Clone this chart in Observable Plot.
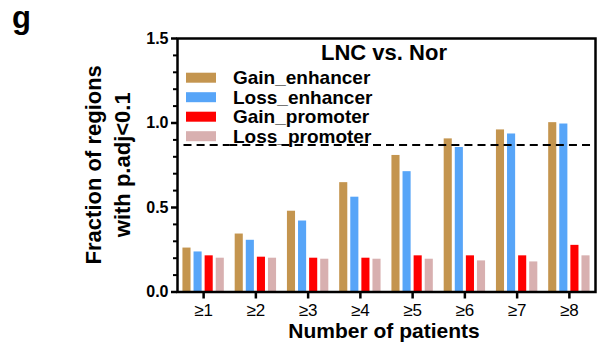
<!DOCTYPE html>
<html>
<head>
<meta charset="utf-8">
<script src="https://cdn.jsdelivr.net/npm/d3@7"></script>
<script src="https://cdn.jsdelivr.net/npm/@observablehq/plot@0.6"></script>
<style>
  html, body { margin: 0; padding: 0; background: #fff; }
  #chart { width: 598px; height: 347px; }
</style>
</head>
<body>
<div id="chart"></div>
<script>
const patients = ["≥1", "≥2", "≥3", "≥4", "≥5", "≥6", "≥7", "≥8"];
const series = ["Gain_enhancer", "Loss_enhancer", "Gain_promoter", "Loss_promoter"];
const gainEnhancer = [0.26, 0.343, 0.478, 0.647, 0.808, 0.906, 0.959, 1.002];
const lossEnhancer = [0.237, 0.306, 0.42, 0.561, 0.712, 0.855, 0.935, 0.994];
const gainPromoter = [0.214, 0.206, 0.2, 0.2, 0.214, 0.214, 0.214, 0.276];
const lossPromoter = [0.2, 0.2, 0.194, 0.194, 0.194, 0.184, 0.178, 0.214];
const threshold = 0.87;
const seriesColors = ["#C4954F", "#57A5F8", "#FF0000", "#D8B0B0"];
const yMajorTicks = [0, 0.5, 1.0, 1.5];
const yMinorTicks = [0.1, 0.2, 0.3, 0.4, 0.6, 0.7, 0.8, 0.9, 1.1, 1.2, 1.3, 1.4];
const title = "LNC vs. Nor";
const panelLetter = "g";
const yLabelLines = ["Fraction of regions", "with p.adj<0.1"];
const xLabel = "Number of patients";

const valuesBySeries = [gainEnhancer, lossEnhancer, gainPromoter, lossPromoter];
const data = [];
patients.forEach((p, i) => {
  series.forEach((s, j) => data.push({patients: p, series: s, value: valuesBySeries[j][i]}));
});
const thresholdRows = patients.map(p => ({patients: p, value: threshold}));
const first = patients[0], last = patients[patients.length - 1];

const font = "'Liberation Sans', Arial, Helvetica, sans-serif";
const dash = {stroke: "#000", strokeWidth: 2, strokeDasharray: "8,5.09"};

const plot = Plot.plot({
  width: 598,
  height: 347,
  marginLeft: 177,
  marginRight: 3,
  marginTop: 38,
  marginBottom: 55.5,
  style: {fontFamily: font, color: "#000", background: "#fff", overflow: "visible"},
  fx: {domain: patients, padding: 0, round: false, axis: null, label: null},
  x: {domain: series, paddingInner: 0.27, paddingOuter: 0.49, round: false, axis: null},
  y: {domain: [0, 1.5], axis: null},
  color: {domain: series, range: seriesColors},
  marks: [
    Plot.barY(data, {fx: "patients", x: "series", y: "value", fill: "series"}),
    Plot.ruleY(thresholdRows.filter(d => d.patients === first), {fx: "patients", y: "value", insetLeft: 6.5, ...dash}),
    Plot.ruleY(thresholdRows.filter(d => d.patients !== first && d.patients !== last), {fx: "patients", y: "value", ...dash}),
    Plot.ruleY(thresholdRows.filter(d => d.patients === last), {fx: "patients", y: "value", insetRight: 4.5, ...dash}),
    Plot.frame({facet: "super", stroke: "#000", strokeWidth: 2.5}),
    Plot.axisY({ticks: yMajorTicks, tickFormat: d3.format(".1f"), tickSize: 6, tickPadding: 3,
      fontSize: 16, fontWeight: "bold", strokeWidth: 2.5, label: null}),
    Plot.axisY({ticks: yMinorTicks, tickFormat: () => "", tickSize: 4, strokeWidth: 2, label: null}),
    Plot.axisFx({anchor: "bottom", tickSize: 7, tickPadding: 5, fontSize: 17, strokeWidth: 2.5, label: null})
  ]
});

document.getElementById("chart").appendChild(plot);

const svg = d3.select(plot);
const y = plot.scale("y");
const color = plot.scale("color");
const yTop = y.apply(1.5), yBottom = y.apply(0);

// panel letter
svg.append("text").attr("x", 12).attr("y", 28).attr("font-size", 31).attr("font-weight", "bold")
  .attr("text-anchor", "start").attr("font-family", font).text(panelLetter);

// y label
const yMid = (yTop + yBottom) / 2;
[101, 130].forEach((bx, i) => {
  svg.append("text").attr("transform", `translate(${bx},${yMid}) rotate(-90)`)
    .attr("text-anchor", "middle").attr("font-size", 22).attr("font-weight", "bold")
    .attr("font-family", font).text(yLabelLines[i]);
});

// x label
svg.append("text").attr("x", 384).attr("y", 338).attr("text-anchor", "middle")
  .attr("font-size", 21).attr("font-weight", "bold").attr("font-family", font).text(xLabel);

// title
svg.append("text").attr("x", 384).attr("y", 60).attr("text-anchor", "middle")
  .attr("font-size", 22).attr("font-weight", "bold").attr("font-family", font).text(title);

// legend
series.forEach((s, i) => {
  const cy = 77.7 + i * 19.5;
  svg.append("rect").attr("x", 186).attr("y", cy - 5).attr("width", 30).attr("height", 10)
    .attr("fill", color.apply(s));
  svg.append("text").attr("x", 233).attr("y", cy + 6.5).attr("font-size", 19)
    .attr("text-anchor", "start").attr("font-weight", "bold").attr("font-family", font).text(s);
});
</script>
</body>
</html>
